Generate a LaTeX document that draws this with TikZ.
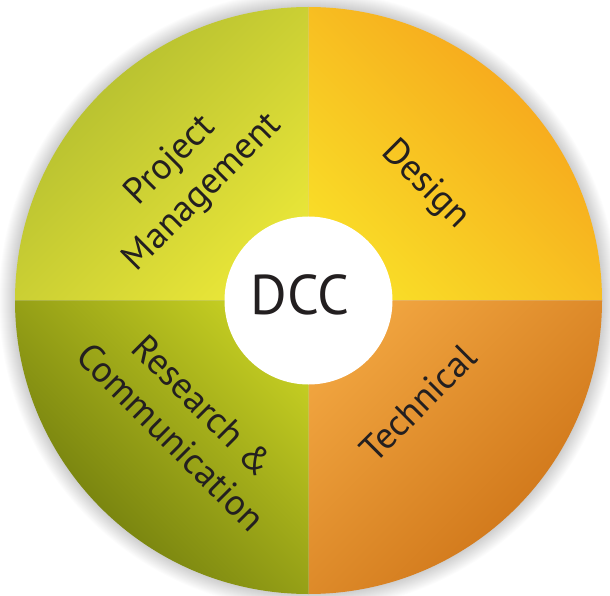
\documentclass[tikz,border=0pt]{standalone}
\usepackage{fontspec}
\setmainfont{PT Sans}
\definecolor{txt}{HTML}{231F20}
\definecolor{tlout}{HTML}{AEBA2F}
\definecolor{tlin}{HTML}{E8E538}
\definecolor{trout}{HTML}{F6A01B}
\definecolor{trin}{HTML}{F9DC27}
\definecolor{brout}{HTML}{CB7014}
\definecolor{brin}{HTML}{F0A43F}
\definecolor{blout}{HTML}{68740B}
\definecolor{blin}{HTML}{C3CC22}
\tikzset{
  lbl/.style={text=txt, align=center, font=\fontsize{37}{45}\selectfont, inner sep=0pt},
}
\begin{document}
\begin{tikzpicture}[x=1pt,y=1pt]
\useasboundingbox (0,0) rectangle (610,595);
\fill[white] (0,0) rectangle (610,595);
\coordinate (c) at (308.5,294.5);
\def\R{293.5}
% soft shadow
\foreach \i in {1,...,16}{
  \fill[black, opacity=0.011] (c) circle ({\R+\i});
}
% quadrants
\shade[top color=tlout, bottom color=tlin, shading angle=45]
  (c) -- ++(-\R,0) arc[start angle=180, end angle=90, radius=\R] -- cycle;
\shade[top color=trout, bottom color=trin, shading angle=-45]
  (c) -- ++(0,\R) arc[start angle=90, end angle=0, radius=\R] -- cycle;
\shade[top color=brout, bottom color=brin, shading angle=-135]
  (c) -- ++(\R,0) arc[start angle=0, end angle=-90, radius=\R] -- cycle;
\shade[top color=blout, bottom color=blin, shading angle=135]
  (c) -- ++(0,-\R) arc[start angle=270, end angle=180, radius=\R] -- cycle;
% centre
\fill[white] (c) circle (84);
\node[text=txt, font=\fontsize{56}{60}\selectfont, inner sep=0pt] (dcc) at (300,300) {DCC};
\node[lbl, rotate=45] (pm) at (187,418) {Project\\Management};
\node[lbl, rotate=-45] (design) at (425,410) {Design};
\node[lbl, rotate=45] (tech) at (418,192) {Technical};
\node[lbl, rotate=-45] (rc) at (187,174) {Research \&\\Communication};
\end{tikzpicture}
\end{document}
